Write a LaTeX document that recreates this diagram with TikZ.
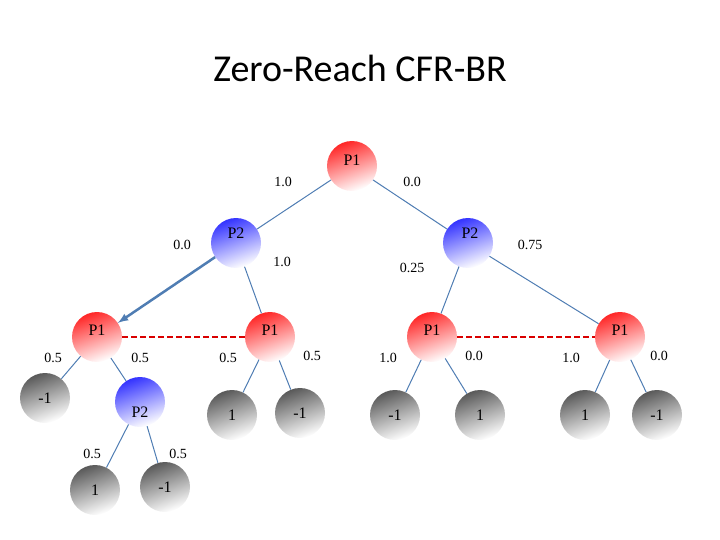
\documentclass[tikz,border=0pt]{standalone}
\usepackage{fontspec}
\setmainfont{Liberation Serif}
\newfontfamily\titlefont{Carlito}
\definecolor{edgec}{HTML}{4F7DB3}
\begin{document}
\begin{tikzpicture}[x=1pt,y=-1pt,
  nd/.style={circle,minimum size=50pt,inner sep=0pt,font=\fontsize{16}{16}\selectfont,text depth=0pt},
  tx/.style={font=\fontsize{16}{16}\selectfont},
  pone/.style={nd,top color=red!85,bottom color=white,shading angle=20},
  ptwo/.style={nd,top color=blue!80,bottom color=white,shading angle=20},
  term/.style={nd,top color=black!65,bottom color=white,shading angle=20},
  ed/.style={draw=edgec,line width=1pt},
  lb/.style={font=\fontsize{14}{14}\selectfont},
  dsh/.style={red!85!black,dash pattern=on 6pt off 3pt,line width=1.8pt}]
\useasboundingbox (0,0) rectangle (720,540);
\node[font=\titlefont\fontsize{38}{38}\selectfont] (title) at (360,68) {Zero-Reach CFR-BR};
\node[pone] (r) at (352,166) {}; \node[tx] (rl) at (352,160) {P1};
\node[ptwo] (a) at (236,243) {}; \node[tx] (al) at (236,233) {P2};
\node[ptwo] (b) at (468,243) {}; \node[tx] (bl) at (470,233) {P2};
\node[pone] (c) at (97,337) {}; \node[tx] (cl) at (97,330) {P1};
\node[pone] (d) at (270,337) {}; \node[tx] (dl) at (270,330) {P1};
\node[pone] (e) at (432,337) {}; \node[tx] (el) at (432,330) {P1};
\node[pone] (f) at (620,337) {}; \node[tx] (fl) at (620,330) {P1};
\node[term] (t1) at (45,398) {-1};
\node[ptwo] (g) at (140,402) {}; \node[tx] (gl) at (140,412) {P2};
\node[term] (t2) at (232,415) {1};
\node[term] (t3) at (300,413) {-1};
\node[term] (t4) at (395,415) {-1};
\node[term] (t5) at (480,415) {1};
\node[term] (t6) at (585,415) {1};
\node[term] (t7) at (657,415) {-1};
\node[term] (t8) at (95,490) {1};
\node[term] (t9) at (165,487) {-1};
\draw[ed] (r)--(a); \draw[ed] (r)--(b);
\draw[ed,line width=2.5pt,-latex] (a)--(c);
\draw[ed] (a)--(d); \draw[ed] (b)--(e); \draw[ed] (b)--(f);
\draw[ed] (c)--(t1); \draw[ed] (c)--(g);
\draw[ed] (d)--(t2); \draw[ed] (d)--(t3);
\draw[ed] (e)--(t4); \draw[ed] (e)--(t5);
\draw[ed] (f)--(t6); \draw[ed] (f)--(t7);
\draw[ed] (g)--(t8); \draw[ed] (g)--(t9);
\draw[dsh] (c)--(d); \draw[dsh] (e)--(f);
\node[lb] (l1) at (283,182) {1.0};
\node[lb] (l2) at (412,182) {0.0};
\node[lb] (l3) at (182,245) {0.0};
\node[lb] (l4) at (282,262) {1.0};
\node[lb] (l5) at (412,268) {0.25};
\node[lb] (l6) at (530,245) {0.75};
\node[lb] (l7) at (53,358) {0.5};
\node[lb] (l8) at (140,358) {0.5};
\node[lb] (l9) at (228,358) {0.5};
\node[lb] (l10) at (312,356) {0.5};
\node[lb] (l11) at (388,358) {1.0};
\node[lb] (l12) at (474,356) {0.0};
\node[lb] (l13) at (571,358) {1.0};
\node[lb] (l14) at (659,356) {0.0};
\node[lb] (l15) at (92,454) {0.5};
\node[lb] (l16) at (178,454) {0.5};
\end{tikzpicture}
\end{document}
